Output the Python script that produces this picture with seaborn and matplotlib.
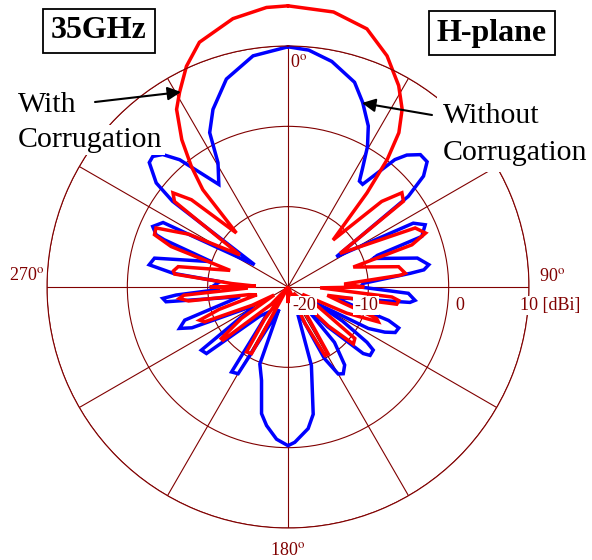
import numpy as np
import pandas as pd
import seaborn as sns
from matplotlib import pyplot as plt

# H-plane pattern at 35 GHz, angle in degrees clockwise from boresight, gain in dBi
with_angle = [0, 9.4, 17, 23.2, 28.8, 32.7, 35.7, 37.9, 40, 43.8,
              47.6, 50.4, 53.4, 57.2,
              65.1, 68.6, 71.2, 73,
              79.6, 83.3, 84, 87, 90, 91.5,
              95.5, 97, 99, 102,
              106, 109.5, 111.1, 114, 117,
              122, 127.6, 131.1, 134, 138,
              144, 149, 151.6, 155, 160,
              178, 180, 182,
              202, 208.7, 212.6, 216, 220,
              224, 230.7, 232.3, 236, 240,
              243, 247.3, 249.4, 252, 256,
              259, 262, 264, 265.5, 268.5, 270, 271.5,
              273.5, 276.5, 278, 280.5, 286,
              289.1, 291.4, 294.1, 298, 303.7,
              307, 309.3, 312.1, 316.3,
              318.8, 321.3, 324.2, 327.9, 330.9, 335.3, 340.1, 348.4, 355.6, 360]
with_gain = [15.0, 14.7, 13.6, 11.3, 8.6, 6.3, 3.65, 0.1, -4.7, -11.9,
             -4.2, -1.6, -2.1, -12.3,
             -2.55, -1.6, -3.7, -11.5,
             -6.0, -5.3, -5.9, -13, -10.5, -16,
             -7, -6.1, -6.3, -15,
             -13, -8.3, -7.95, -12, -18,
             -16, -9.5, -9.2, -13, -19,
             -17, -10.3, -10.3, -15, -20,
             -20, -18, -20,
             -20, -10.55, -10.4, -15, -20,
             -17, -9.55, -9.5, -13, -18,
             -15, -8.75, -8.25, -11, -16,
             -15, -7.5, -6.4, -7.0, -15, -10.25, -16,
             -13, -5.8, -5.6, -6.1, -12.5,
             -4.6, -2.15, -2.0, -6, -12.8,
             -2.3, -1.5, -3.8, -10.7,
             -3.9, -0.75, 2.6, 6.1, 7.75, 10.25, 12.4, 14.1, 14.9, 15.0]

without_angle = [0, 5, 11, 18, 22, 26.5, 29.5, 32.3, 34, 36,
                 40, 42, 45, 48, 50.7, 53, 58,
                 63, 65.6, 69.3, 70.5, 71.5,
                 77.4, 81, 82.8, 83.6, 87.2, 90,
                 93, 96, 97.2, 101,
                 103, 108.4, 110.3, 113, 115, 117.3, 120,
                 122, 125, 126.5, 129.8, 131.5, 135, 138,
                 140, 144, 147.5, 150, 153, 156,
                 160.3, 163.4, 168.8, 171.9, 177.5, 180, 184.3, 188.8, 191.8, 195.8, 200.1, 202,
                 204, 209.9, 213.6, 218,
                 224, 230.8, 233.9, 240,
                 243, 247, 249.1, 252.2, 258.6,
                 263.1, 264.8, 265.9, 268, 270, 274.5,
                 276.8, 279.1, 282.2, 288.3,
                 290.9, 291.6, 294.1, 297.3, 303.7,
                 306.6, 308.3, 311.9, 314, 316.6, 319.6, 326,
                 330.6, 333.1, 337.1, 343.5, 351.4, 360]
without_gain = [9.9, 9.6, 8.6, 6.8, 4.8, 2.4, 0.1, -2.7, -4.1, -4.2,
                0.7, 2.1, 3.3, 3.3, 1.8, -1.25, -12.9,
                -2.5, -1.25, -2.2, -8.2, -8.8,
                -3.5, -2.25, -2.95, -4.65, -10.6, -11,
                -5.0, -4.1, -4.7, -12.7,
                -14, -6.8, -5.3, -5.5, -6.7, -8.75, -16,
                -12, -8, -6.8, -6.7, -7.5, -13, -18,
                -11, -8, -7.2, -7.5, -10, -16,
                -16.3, -9.8, -3.85, -2.2, -0.65, -0.25, -1.0, -2.55, -3.9, -7.9, -9.8, -17,
                -16, -7.55, -7.3, -16,
                -15, -6.9, -6.65, -15,
                -14, -7.0, -5.55, -6.5, -13.9,
                -4.7, -4.35, -6.05, -11.5, -10.5, -11.5,
                -5.6, -2.5, -3.0, -9.95,
                -3.5, -2.35, -1.55, -2.5, -15,
                -2.1, 0.9, 3.2, 3.4, 2.7, 0.8, -4.6,
                -2.25, 1.55, 4.0, 7.0, 9.1, 9.9]

r_ticks = [-20, -10, 0, 10]
r_labels = ['-20', '-10', '0', '10 [dBi]']
theta_ticks = list(range(0, 360, 30))

grid_color = '#800000'

sns.set_style('white')
plt.rcParams['font.family'] = ['Liberation Serif', 'DejaVu Serif']
plt.rcParams['mathtext.fontset'] = 'stix'
plt.rcParams['text.color'] = 'black'

W, H = 592, 560


def fp(x, y):
    # pixel position (from top-left) to figure fraction
    return x / W, 1 - y / H


fig = plt.figure(figsize=(W / 100, H / 100), dpi=100)
ax = fig.add_axes([47 / W, 32 / H, 482 / W, 482 / H], projection='polar')
ax.set_theta_zero_location('N')
ax.set_theta_direction(-1)

data = pd.concat([
    pd.DataFrame({'theta': np.radians(without_angle), 'gain': without_gain, 'case': 'Without'}),
    pd.DataFrame({'theta': np.radians(with_angle), 'gain': with_gain, 'case': 'With'}),
])
for case, color in [('Without', 'blue'), ('With', 'red')]:
    sns.lineplot(ax=ax, data=data[data['case'] == case], x='theta', y='gain',
                 sort=False, estimator=None, color=color, lw=2.5)
for line in ax.lines:
    line.set_clip_on(False)
    line.set_solid_joinstyle('miter')

ax.set_ylim(r_ticks[0], r_ticks[-1])
ax.set_yticks(r_ticks[1:])
ax.set_yticklabels([])
ax.set_xticks(np.radians(theta_ticks))
ax.set_xticklabels([])
ax.set_xlabel('')
ax.set_ylabel('')
ax.grid(True, color=grid_color, lw=0.8)
ax.set_axisbelow(True)
ax.spines['polar'].set_color(grid_color)
ax.spines['polar'].set_linewidth(0.8)

# radial labels along the 90 deg direction
lab_box = dict(fc='white', ec='none', pad=1.0)
for lab, x in zip(r_labels, [292, 354, 455, 520]):
    fig.text(*fp(x, 310), lab, color=grid_color, fontsize=13, ha='left', va='baseline', bbox=lab_box)

deg = r'$^{\mathrm{o}}$'
fig.text(*fp(290, 67), '0' + deg, color=grid_color, fontsize=13, ha='left', va='baseline')
fig.text(*fp(539, 281), '90' + deg, color=grid_color, fontsize=13, ha='left', va='baseline')
fig.text(*fp(9, 280), '270' + deg, color=grid_color, fontsize=13, ha='left', va='baseline')
fig.text(*fp(288, 555), '180' + deg, color=grid_color, fontsize=13, ha='center', va='baseline')

# boxed titles
title_box = dict(fc='white', ec='black', lw=1.3, boxstyle='square,pad=0.25')
fig.text(*fp(99, 31), '35GHz', fontsize=23, fontweight='bold', ha='center', va='center', bbox=title_box)
fig.text(*fp(492, 33), 'H-plane', fontsize=23, fontweight='bold', ha='center', va='center', bbox=title_box)

# curve annotations (white boxes hide the outer ring behind them)
fig.text(*fp(18, 112), 'With', fontsize=21.5, ha='left', va='baseline',
         bbox=dict(fc='white', ec='none', pad=4))
fig.text(*fp(18, 147), 'Corrugation', fontsize=21.5, ha='left', va='baseline',
         bbox=dict(fc='white', ec='none', pad=1.5))
fig.text(*fp(443, 123), 'Without', fontsize=21.5, ha='left', va='baseline',
         bbox=dict(fc='white', ec='none', pad=4))
fig.text(*fp(443, 160), 'Corrugation', fontsize=21.5, ha='left', va='baseline',
         bbox=dict(fc='white', ec='none', pad=4))

arrow = dict(arrowstyle='-|>', color='black', lw=1.5, mutation_scale=20, shrinkA=0, shrinkB=0)
ax.annotate('', xy=fp(181, 92), xytext=fp(95, 102), xycoords='figure fraction', arrowprops=arrow)
ax.annotate('', xy=fp(362, 103), xytext=fp(432, 115), xycoords='figure fraction', arrowprops=arrow)

fig.savefig('out.png', dpi=100)
